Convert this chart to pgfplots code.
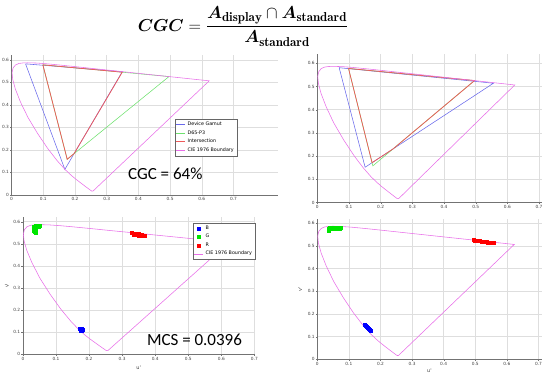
\documentclass[border=0pt]{standalone}
\usepackage{pgfplots}
\pgfplotsset{compat=1.18}
\usepackage{pgfplotstable}
\usepackage{amsmath}
\usepackage{fontspec}
\newfontfamily\dejavu{DejaVu Sans}
\newfontfamily\calib{Carlito}
\definecolor{devblue}{RGB}{105,105,235}
\definecolor{pgreen}{RGB}{110,225,110}
\definecolor{intersectcol}{HTML}{EE5A5A}
\definecolor{locus}{RGB}{232,110,232}
\definecolor{gridc}{RGB}{222,222,222}

\pgfplotstableread{
u v
0.2568 0.0166
0.2522 0.0169
0.2347 0.0350
0.2161 0.0549
0.2033 0.0688
0.1877 0.0871
0.1690 0.1119
0.1441 0.1510
0.1147 0.2044
0.0828 0.2708
0.0521 0.3427
0.0282 0.4117
0.0119 0.4698
0.0035 0.5131
0.0014 0.5432
0.0046 0.5638
0.0123 0.5770
0.0231 0.5837
0.0360 0.5861
0.0501 0.5868
0.0792 0.5856
0.1127 0.5821
0.1531 0.5766
0.2026 0.5694
0.2623 0.5604
0.3315 0.5501
0.4035 0.5393
0.5203 0.5219
0.6005 0.5099
0.6234 0.5065
0.2568 0.0166
}\locus

% bottom-left clusters
\pgfplotstableread{
u v
0.173 0.115
0.176 0.116
0.179 0.114
0.174 0.111
0.177 0.111
0.180 0.110
0.175 0.107
0.178 0.108
}\Bone
\pgfplotstableread{
u v
0.050 0.580
0.046 0.582
0.042 0.582
0.038 0.580
0.034 0.577
0.032 0.572
0.032 0.566
0.034 0.560
0.036 0.555
0.039 0.552
0.044 0.576
0.040 0.575
0.036 0.570
0.048 0.576
0.036 0.563
0.038 0.558
}\Gone
\pgfplotstableread{
u v
0.330 0.548
0.335 0.547
0.340 0.546
0.345 0.545
0.350 0.544
0.355 0.542
0.360 0.540
0.365 0.538
0.370 0.536
0.335 0.541
0.340 0.540
0.345 0.539
0.350 0.538
0.355 0.537
0.360 0.535
}\Rone

% bottom-right clusters
\pgfplotstableread{
u v
0.151 0.153
0.154 0.149
0.157 0.144
0.160 0.140
0.163 0.135
0.166 0.131
0.169 0.127
0.170 0.125
}\Btwo
\pgfplotstableread{
u v
0.075 0.580
0.070 0.580
0.065 0.580
0.060 0.580
0.055 0.580
0.050 0.579
0.045 0.579
0.040 0.578
0.037 0.575
0.035 0.571
0.035 0.567
0.050 0.576
0.060 0.577
0.070 0.577
}\Gtwo
\pgfplotstableread{
u v
0.495 0.525
0.500 0.524
0.505 0.523
0.510 0.522
0.515 0.521
0.520 0.520
0.525 0.519
0.530 0.518
0.535 0.517
0.540 0.516
0.545 0.515
0.550 0.514
0.555 0.513
0.560 0.512
}\Rtwo

\pgfplotsset{
 chroma/.style={
  scale only axis, anchor=south west,
  axis x line*=bottom, axis y line*=left,
  axis line style={black!55,-},
  xmin=0, ymin=0,
  xtick={0,0.1,0.2,0.3,0.4,0.5,0.6,0.7},
  ytick={0,0.1,0.2,0.3,0.4,0.5,0.6},
  grid=major, grid style={gridc, line width=0.5pt},
  tick style={black!55}, major tick length=1.5pt, tick align=outside,
  /pgf/number format/assume math mode=true,
  ticklabel style={font=\dejavu\fontsize{4.3}{5}\selectfont, text=black!75, inner sep=1pt},
  legend cell align=left,
  legend style={font=\dejavu\fontsize{4.8}{5.6}\selectfont, draw=black!60, inner sep=1pt, row sep=-0.6pt},
  legend image code/.code={\draw[mark repeat=2,mark phase=2,#1] plot coordinates {(0pt,0pt) (4.5pt,0pt) (9pt,0pt)};},
  every axis plot/.append style={line width=0.55pt},
 },
 clus/.style={only marks, mark=square*, mark size=1.5pt},
 isec/.style={draw=intersectcol, mark=none, line width=0.75pt},
}

\begin{document}
\begin{tikzpicture}
\useasboundingbox (0,0) rectangle (547pt,-374pt);

% formula
\node[font=\fontsize{18.5}{22}\selectfont] at (243pt,-26.5pt)
 {$\displaystyle \boldsymbol{CGC} = \frac{\boldsymbol{A}_{\mathbf{display}} \cap \boldsymbol{A}_{\mathbf{standard}}}{\boldsymbol{A}_{\mathbf{standard}}}$};

% top-left
\begin{axis}[chroma, at={(11.6pt,-194.8pt)},
  width=266.3pt, height=139.5pt, xmax=0.84, ymax=0.62,
  legend style={at={(axis cs:0.711,0.172)}, anchor=south east}]
\addplot[draw=devblue, mark=none] coordinates {(0.044,0.582) (0.168,0.113) (0.349,0.547) (0.044,0.582)};
\addlegendentry{Device Gamut}
\addplot[draw=pgreen, mark=none] coordinates {(0.0986,0.5777) (0.1754,0.1579) (0.4964,0.5255) (0.0986,0.5777)};
\addlegendentry{D65-P3}
\addplot[isec] coordinates {(0.0986,0.5777) (0.1754,0.1579) (0.1971,0.1831) (0.349,0.545) (0.0986,0.5777)};
\addlegendentry{Intersection}
\addplot[draw=locus, mark=none] table {\locus};
\addlegendentry{CIE 1976 Boundary}
\end{axis}

% top-right
\begin{axis}[chroma, at={(317.3pt,-202.5pt)},
  width=224.9pt, height=148.5pt, xmax=0.71, ymax=0.64]
\addplot[draw=devblue, mark=none] coordinates {(0.069,0.581) (0.151,0.152) (0.556,0.514) (0.069,0.581)};
\addplot[draw=pgreen, mark=none] coordinates {(0.0986,0.5777) (0.1754,0.1579) (0.4964,0.5255) (0.0986,0.5777)};
\addplot[isec] coordinates {(0.0986,0.5777) (0.1729,0.1716) (0.2386,0.2303) (0.4964,0.5255) (0.0986,0.5777)};
\addplot[draw=locus, mark=none] table {\locus};
\end{axis}

% bottom-left
\begin{axis}[chroma, at={(22.9pt,-354.3pt)},
  width=231.5pt, height=137pt, xmax=0.7, ymax=0.62,
  xlabel={u'}, ylabel={v'},
  label style={font=\dejavu\fontsize{5}{6}\selectfont, text=black!75},
  xlabel style={at={(axis description cs:0.5,-0.1)}, anchor=center},
  ylabel style={at={(axis description cs:-0.069,0.5)}, anchor=center},
  legend style={at={(axis cs:0.702,0.595)}, anchor=north east}]
\addplot[clus, blue] table {\Bone};
\addlegendentry{B}
\addplot[clus, green!90!black] table {\Gone};
\addlegendentry{G}
\addplot[clus, red] table {\Rone};
\addlegendentry{R}
\addplot[draw=locus, mark=none] table {\locus};
\addlegendentry{CIE 1976 Boundary}
\end{axis}

% bottom-right
\begin{axis}[chroma, at={(317.3pt,-359.3pt)},
  width=224.3pt, height=140.6pt, xmax=0.71, ymax=0.62,
  xlabel={u'}, ylabel={v'},
  label style={font=\dejavu\fontsize{5}{6}\selectfont, text=black!75},
  xlabel style={at={(axis description cs:0.5,-0.081)}, anchor=center},
  ylabel style={at={(axis description cs:-0.077,0.5)}, anchor=center}]
\addplot[clus, blue] table {\Btwo};
\addplot[clus, green!90!black] table {\Gtwo};
\addplot[clus, red] table {\Rtwo};
\addplot[draw=locus, mark=none] table {\locus};
\end{axis}

\node[font=\calib\fontsize{17}{20}\selectfont] at (165.3pt,-173.7pt) {CGC = 64\%};
\node[font=\calib\fontsize{17}{20}\selectfont] at (194.5pt,-339.5pt) {MCS = 0.0396};
\end{tikzpicture}
\end{document}
